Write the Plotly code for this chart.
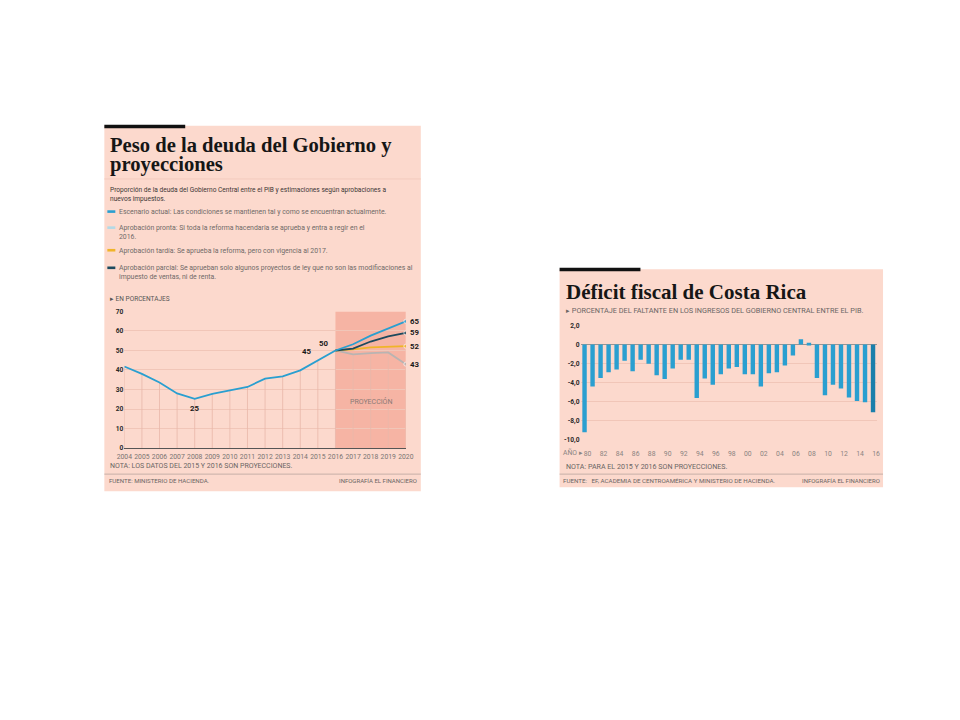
import plotly.graph_objects as go

W, H = 960, 720

# ---------------- data: left chart ----------------
years_hist = [2004, 2005, 2006, 2007, 2008, 2009, 2010, 2011, 2012, 2013, 2014, 2015, 2016]
debt_hist = [41.8, 38.0, 33.6, 28.0, 25.2, 27.8, 29.6, 31.3, 35.6, 36.7, 39.8, 45.0, 50.0]
years_proj = [2016, 2017, 2018, 2019, 2020]
proj_actual = [50.0, 53.2, 57.6, 61.5, 65.0]
proj_parcial = [50.0, 51.0, 54.6, 57.2, 59.0]
proj_tardia = [50.0, 50.6, 51.6, 52.0, 52.2]
proj_pronta = [50.0, 48.0, 48.6, 49.0, 43.0]
left_yticks = [0, 10, 20, 30, 40, 50, 60, 70]
left_xticks = list(range(2004, 2021))

# ---------------- data: right chart ----------------
def_years = list(range(1980, 2017))
deficit = [-9.2, -4.4, -3.5, -2.9, -2.6, -1.7, -2.8, -1.6, -2.0, -3.2, -3.6, -2.5, -1.6, -1.6,
           -5.6, -3.55, -4.2, -3.1, -2.5, -2.35, -3.1, -3.1, -4.4, -3.0, -2.9, -2.2, -1.15,
           0.55, 0.2, -3.5, -5.3, -4.2, -4.6, -5.55, -5.9, -6.05, -7.1]
right_yticks = [2, 0, -2, -4, -6, -8, -10]
right_yticktext = ["2,0", "0", "-2,0", "-4,0", "-6,0", "-8,0", "-10,0"]
right_xticks = list(range(1980, 2017, 2))
right_xticktext = [f"{y % 100:02d}" for y in right_xticks]

# ---------------- styles ----------------
PANEL = "#fcd9cd"
PROJ = "#f6b4a4"
BLUE = "#2a9fd0"
DARK = "#1d4a5e"
YELLOW = "#f0b429"
GRAY = "#b9b4b2"
PALEBLUE = "#b3d9e6"
TXT = "#706a68"
SANS = "Roboto"
SERIF = "Liberation Serif"

# the page is photographed slightly scaled/offset; compensate
SCX, OX = 0.985, 12.5
SCY, OY = 0.985, 13.7


def px(x):
    return ((x - OX) / SCX) / W


def py(y):
    return 1 - ((y - OY) / SCY) / H


fig = go.Figure()

# drop lines under the left line
drop_x, drop_y = [], []
all_years = years_hist + years_proj[1:]
all_low = debt_hist + proj_pronta[1:]
for xv, yv in zip(all_years, all_low):
    drop_x += [xv, xv, None]
    drop_y += [0, yv, None]
fig.add_trace(go.Scatter(x=drop_x, y=drop_y, mode="lines", line=dict(color="#e9b8aa", width=0.8),
                         hoverinfo="skip", showlegend=False, xaxis="x", yaxis="y"))

for ys, col in [(proj_pronta, GRAY), (proj_tardia, YELLOW), (proj_parcial, DARK), (proj_actual, BLUE)]:
    fig.add_trace(go.Scatter(x=years_proj, y=ys, mode="lines+markers",
                             line=dict(color=col, width=1.8),
                             marker=dict(size=[0, 0, 0, 0, 4], color=col),
                             showlegend=False, xaxis="x", yaxis="y"))
fig.add_trace(go.Scatter(x=years_hist, y=debt_hist, mode="lines", line=dict(color=BLUE, width=1.8),
                         showlegend=False, xaxis="x", yaxis="y"))

# bars
bar_colors = [BLUE] * (len(deficit) - 1) + ["#1a7fab"]
fig.add_trace(go.Bar(x=def_years, y=deficit, marker=dict(color=bar_colors, line=dict(width=0)),
                     width=0.55, showlegend=False, xaxis="x2", yaxis="y2"))

shapes = []
# panels
shapes.append(dict(type="rect", xref="paper", yref="paper", x0=px(101), x1=px(418), y0=py(491), y1=py(127),
                   fillcolor=PANEL, line=dict(width=0), layer="below"))
shapes.append(dict(type="rect", xref="paper", yref="paper", x0=px(557), x1=px(881), y0=py(487), y1=py(270),
                   fillcolor=PANEL, line=dict(width=0), layer="below"))
# black top bars
shapes.append(dict(type="rect", xref="paper", yref="paper", x0=px(101), x1=px(182), y0=py(129.5), y1=py(126),
                   fillcolor="#111111", line=dict(width=0)))
shapes.append(dict(type="rect", xref="paper", yref="paper", x0=px(557), x1=px(638), y0=py(272), y1=py(268.5),
                   fillcolor="#111111", line=dict(width=0)))
# separators
shapes.append(dict(type="line", xref="paper", yref="paper", x0=px(101), x1=px(418), y0=py(180), y1=py(180),
                   line=dict(color="#f3cabd", width=1)))
shapes.append(dict(type="line", xref="paper", yref="paper", x0=px(101), x1=px(418), y0=py(474), y1=py(474),
                   line=dict(color="#b9a59f", width=0.8)))
shapes.append(dict(type="line", xref="paper", yref="paper", x0=px(557), x1=px(881), y0=py(474), y1=py(474),
                   line=dict(color="#b9a59f", width=0.8)))
# projection zone
shapes.append(dict(type="rect", xref="x", yref="y", x0=2016, x1=2020, y0=0, y1=70,
                   fillcolor=PROJ, line=dict(width=0), layer="below"))
# legend swatches
for yy, col in [(212.5, BLUE), (228.5, PALEBLUE), (251, YELLOW), (268.5, DARK)]:
    shapes.append(dict(type="rect", xref="paper", yref="paper", x0=px(104), x1=px(112), y0=py(yy + 1.3),
                       y1=py(yy - 1.3), fillcolor=col, line=dict(width=0)))

ann = []


def txt(x, y, s, size=6.9, color=TXT, family=SANS, anchor="left", weight="normal"):
    ann.append(dict(xref="paper", yref="paper", x=px(x), y=py(y), text=s, showarrow=False,
                    xanchor=anchor, yanchor="middle",
                    font=dict(size=size, color=color, family=family, weight=weight)))


# left panel text
txt(105, 147, "Peso de la deuda del Gobierno y", size=20.6, color="#161616", family=SERIF, weight="bold")
txt(105, 166, "proyecciones", size=20.6, color="#161616", family=SERIF, weight="bold")
txt(105, 191, "Proporción de la deuda del Gobierno Central entre el PIB y estimaciones según aprobaciones a",
    size=6.6, color="#3c3736")
txt(105, 200, "nuevos impuestos.", size=6.6, color="#3c3736")
txt(114, 213, "Escenario actual: Las condiciones se mantienen tal y como se encuentran actualmente.")
txt(114, 229, "Aprobación pronta: Si toda la reforma hacendaria se aprueba y entra a regir en el")
txt(114, 238, "2016.")
txt(114, 251.5, "Aprobación tardía: Se aprueba la reforma, pero con vigencia al 2017.")
txt(114, 269, "Aprobación parcial: Se aprueban solo algunos proyectos de ley que no son las modificaciones al")
txt(114, 278, "impuesto de ventas, ni de renta.")
txt(105, 299.5, "▸ EN PORCENTAJES", size=6.5, color="#555")
txt(105, 466, "NOTA: LOS DATOS DEL 2015 Y 2016 SON PROYECCIONES.", size=7.0, color="#6a6564")
txt(104, 480.5, "FUENTE: MINISTERIO DE HACIENDA.", size=6.1, color="#6a6564")
txt(416, 480.5, "INFOGRAFÍA EL FINANCIERO", size=6.0, color="#6a6564", anchor="right")

# right panel text
txt(561, 293, "Déficit fiscal de Costa Rica", size=21, color="#161616", family=SERIF, weight="bold")
txt(561, 311, "▸ PORCENTAJE DEL FALTANTE EN LOS INGRESOS DEL GOBIERNO CENTRAL ENTRE EL PIB.",
    size=7.3, color="#6a6564")
txt(558, 452, "AÑO ▸", size=6.8, color="#8a8482")
txt(561, 466, "NOTA: PARA EL 2015 Y 2016 SON PROYECCIONES.", size=7.1, color="#6a6564")
txt(558, 480.5, "FUENTE:   EF, ACADEMIA DE CENTROAMÉRICA Y MINISTERIO DE HACIENDA.", size=6.2, color="#6a6564")
txt(880, 480.5, "INFOGRAFÍA EL FINANCIERO", size=6.0, color="#6a6564", anchor="right")

# data labels, left chart
lab = dict(showarrow=False, xref="x", yref="y", font=dict(size=7.8, color="#1a1a1a", family=SANS, weight="bold"))
ann.append(dict(x=years_hist[4], y=debt_hist[4], text=f"{debt_hist[4]:.0f}", yshift=-10, **lab))
ann.append(dict(x=years_hist[11], y=debt_hist[11], text=f"{debt_hist[11]:.0f}", xshift=-11, yshift=9, **lab))
ann.append(dict(x=years_hist[12], y=debt_hist[12], text=f"{debt_hist[12]:.0f}", xshift=-12, yshift=7, **lab))
for ys in [proj_actual, proj_parcial, proj_tardia, proj_pronta]:
    ann.append(dict(x=years_proj[-1], y=ys[-1], text=f"{ys[-1]:.0f}", xshift=9, xanchor="center", **lab))
ann.append(dict(x=2018, y=24, text="PROYECCIÓN", showarrow=False, xref="x", yref="y",
                font=dict(size=7.0, color="#8a7a76", family=SANS)))

fig.update_layout(
    width=W, height=H,
    margin=dict(l=0, r=0, t=0, b=0, pad=0),
    paper_bgcolor="white", plot_bgcolor="rgba(0,0,0,0)",
    shapes=shapes, annotations=ann,
    bargap=0.4,
    xaxis=dict(domain=[px(121), px(403)], range=[2004, 2020], anchor="y",
               tickvals=left_xticks, ticktext=[str(v) for v in left_xticks], tickangle=0,
               tickfont=dict(size=6.8, color="#7a7472", family=SANS),
               showgrid=False, zeroline=False, showline=True, linecolor="#555", linewidth=1,
               ticks="outside", ticklen=2, tickcolor="rgba(0,0,0,0)", fixedrange=True),
    yaxis=dict(domain=[py(448), py(312)], range=[0, 70], anchor="x",
               tickvals=left_yticks, tickfont=dict(size=6.6, color="#2a2a2a", family=SANS, weight="bold"),
               showgrid=True, gridcolor="#f1c6b8", gridwidth=0.8, zeroline=False, ticks="",
               showline=False),
    xaxis2=dict(domain=[px(578), px(875)], range=[1979.5, 2016.5], anchor="y2",
                tickvals=right_xticks, ticktext=right_xticktext, tickangle=0,
                tickfont=dict(size=6.8, color="#8a8482", family=SANS),
                showgrid=False, zeroline=False, showline=False,
                ticks="outside", ticklen=7, tickcolor="rgba(0,0,0,0)", ticklabelshift=3),
    yaxis2=dict(domain=[py(440), py(326)], range=[-10, 2], anchor="x2",
                tickvals=right_yticks, ticktext=right_yticktext,
                tickfont=dict(size=6.6, color="#2a2a2a", family=SANS, weight="bold"),
                showgrid=True, gridcolor="#f1c6b8", gridwidth=0.8,
                zeroline=True, zerolinecolor="#9a9492", zerolinewidth=1, ticks=""),
)

fig.write_html("out.html")
